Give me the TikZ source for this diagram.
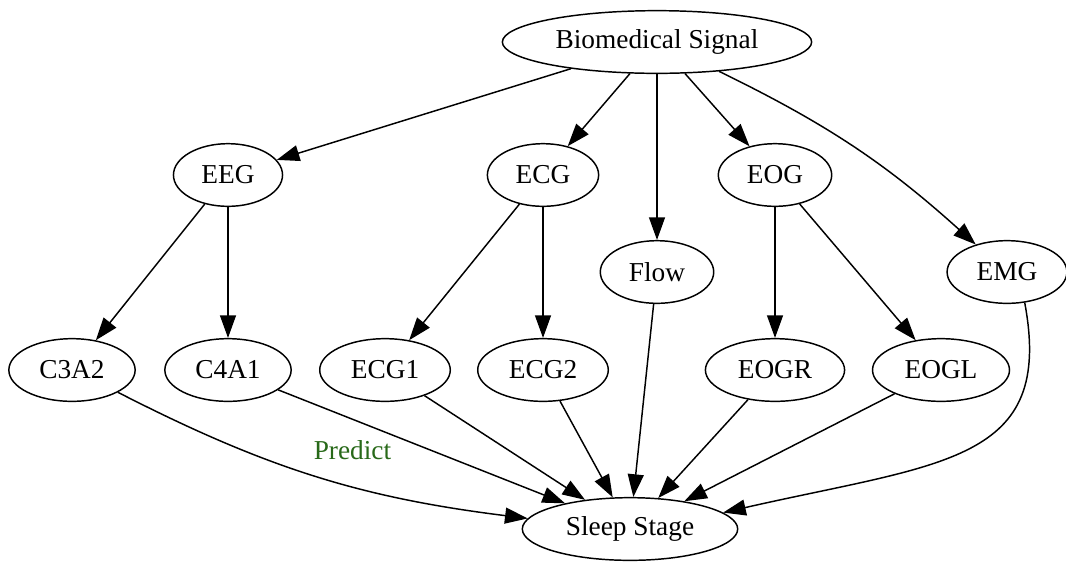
\documentclass[tikz,border=0pt]{standalone}
\usepackage{fontspec}
\setmainfont{Liberation Serif}
\usepackage{tikz}
\usetikzlibrary{shapes.geometric, arrows.meta}
\tikzstyle{sig} = [ellipse, draw, line width=1.1pt, inner xsep=9pt, inner ysep=2pt, minimum height=47pt, font=\fontsize{20.5}{24}\selectfont]
\tikzstyle{arrow} = [line width=1.1pt, -{Triangle[length=17pt, width=12pt]}]
\definecolor{predictgreen}{RGB}{40,105,25}

\begin{document}
\begin{tikzpicture}[x=0.75pt, y=-0.75pt]
            \useasboundingbox (0,0) rectangle (1066,562);
            \node (bio) [sig, inner xsep=6pt] at (657,42) {Biomedical Signal};
            
            \node (eeg) [sig] at (228,175) {EEG};
            \node (ecg) [sig] at (543,175) {ECG};
            \node (eog) [sig] at (775,175) {EOG};
            \node (flow) [sig] at (657,272) {Flow};
            \node (emg) [sig] at (1007,272) {EMG};
            
            \node (c3a2) [sig] at (72,370) {C3A2};
            \node (c4a1) [sig] at (228,370) {C4A1};
            \node (ecg1) [sig] at (385,370) {ECG1};
            \node (ecg2) [sig] at (543,370) {ECG2};
            \node (eogr) [sig] at (775,370) {EOGR};
            \node (eogl) [sig] at (941,370) {EOGL};
            
            \node (sleep) [sig] at (630,529) {Sleep Stage};
            
            
            \draw [arrow] (bio) -- (eeg);
            \draw [arrow] (bio) -- (ecg);
            \draw [arrow] (bio) -- (flow);
            \draw [arrow] (bio) -- (eog);
            \draw [arrow] (bio) to[bend left=8] (emg);
            
            \draw [arrow] (eeg) -- (c3a2);
            \draw [arrow] (eeg) -- (c4a1);
            \draw [arrow] (ecg) -- (ecg1);
            \draw [arrow] (ecg) -- (ecg2);
            \draw [arrow] (eog) -- (eogr);
            \draw [arrow] (eog) -- (eogl);
            
            \draw [arrow] (c3a2) to[bend right=10] node (predict) [pos=0.47, above right, xshift=5pt, yshift=8pt, inner sep=1pt, text=predictgreen, font=\fontsize{20.5}{24}\selectfont] {Predict} (sleep);
            \draw [arrow] (c4a1) -- (sleep);
            \draw [arrow] (ecg1) -- (sleep);
            \draw [arrow] (ecg2) -- (sleep);
            \draw [arrow] (flow) -- (sleep);
            \draw [arrow] (eogr) -- (sleep);
            \draw [arrow] (eogl) -- (sleep);
            \draw [arrow] (emg.300) .. controls +(30,160) and +(220,-50) .. (sleep.10);
        \end{tikzpicture}
\end{document}
